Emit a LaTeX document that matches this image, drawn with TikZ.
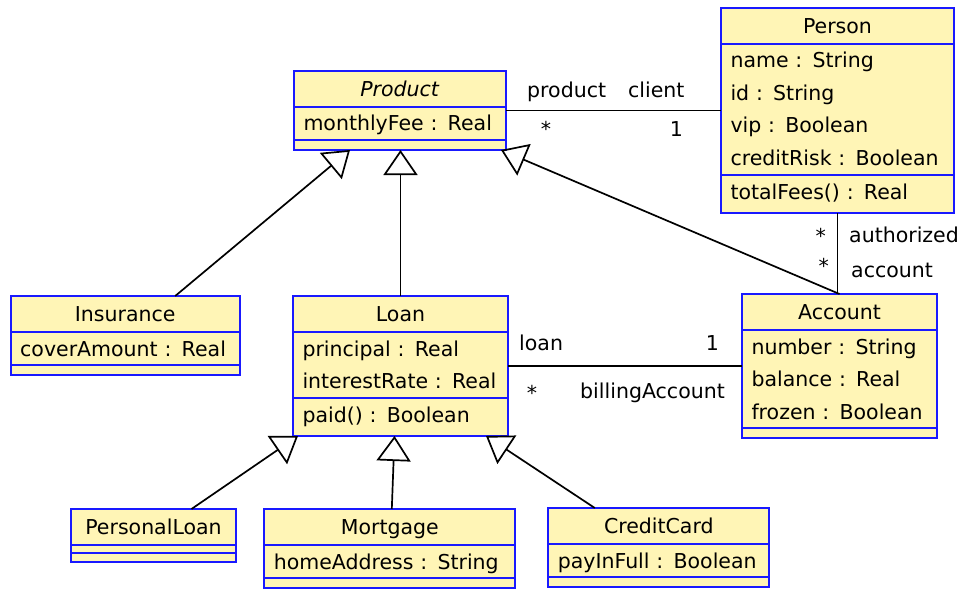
\documentclass[tikz,border=0pt]{standalone}
\usepackage{fontspec}
\setmainfont{DejaVu Sans}
\usetikzlibrary{shapes.multipart,arrows.meta}
\definecolor{clsfill}{RGB}{255,245,182}
\definecolor{clsline}{RGB}{25,25,255}
\newcommand\hstr{\rule[-9.5pt]{0pt}{34pt}}
\newcommand\astr{\rule[-8pt]{0pt}{31pt}}
\newcommand\ostr{\rule[-12.5pt]{0pt}{36.5pt}}
\newcommand\estr{\rule{0pt}{8pt}}
\newcommand\hd[1]{\hbox to\hsize{\hss\hstr#1\hss}}
\begin{document}
\begin{tikzpicture}[x=1pt,y=-1pt,font=\fontsize{20.5}{32.5}\selectfont,
  cls/.style={rectangle split,rectangle split parts=3,draw=clsline,fill=clsfill,line width=2pt,
    inner xsep=9.5pt,inner ysep=0pt,outer sep=0pt,text width=#1,align=left,anchor=north west},
  lbl/.style={inner sep=0pt},
  assoc/.style={line width=1.7pt},
  isa/.style={-{Triangle[open,length=25pt,width=34pt]},line width=1.7pt}]
\useasboundingbox (0,0) rectangle (966,591);
\node (product) at (294,71)[cls=193pt]{\hd{\textit{Product}}
  \nodepart{second}\astr monthlyFee : Real
  \nodepart{third}\estr};
\node (person) at (721,8)[cls=214pt]{\hd{Person}
  \nodepart{second}\astr name : String\\\astr id : String\\\astr vip : Boolean\\\astr creditRisk : Boolean
  \nodepart{third}\ostr totalFees() : Real};
\node (ins) at (10.7,296)[cls=210pt]{\hd{Insurance}
  \nodepart{second}\astr coverAmount : Real
  \nodepart{third}\estr};
\node (loan) at (293,296)[cls=196pt]{\hd{Loan}
  \nodepart{second}\astr principal : Real\\\astr interestRate : Real
  \nodepart{third}\ostr paid() : Boolean};
\node (account) at (742,294)[cls=176pt]{\hd{Account}
  \nodepart{second}\astr number : String\\\astr balance : Real\\\astr frozen : Boolean
  \nodepart{third}\estr};
\node (pl) at (71,509)[cls=146pt]{\hd{PersonalLoan}
  \nodepart{second}\rule{0pt}{6pt}
  \nodepart{third}\rule{0pt}{6.5pt}};
\node (mort) at (264.3,509)[cls=232pt]{\hd{Mortgage}
  \nodepart{second}\astr homeAddress : String
  \nodepart{third}\estr};
\node (cc) at (548.3,508)[cls=202pt]{\hd{CreditCard}
  \nodepart{second}\astr payInFull : Boolean
  \nodepart{third}\estr};

\draw[assoc] (product.east) -- (product.east -| person.west);
\draw[assoc] (person.south) -- (person.south |- account.north);
\draw[assoc] (loan.east) -- (loan.east -| account.west);
\draw[isa] ([xshift=50pt]ins.north) -- ([xshift=-50pt]product.south);
\draw[isa] (loan.north) -- (loan.north |- product.south);
\draw[isa] (account.north) -- ([xshift=-5pt]product.south east);
\draw[isa] ([xshift=38pt]pl.north) -- ([xshift=5pt]loan.south west);
\draw[isa] ([xshift=2pt]mort.north) -- ([xshift=-6pt]loan.south);
\draw[isa] ([xshift=-64pt]cc.north) -- ([xshift=-22pt]loan.south east);

\node (prodrole) at (527,98)[lbl,anchor=base west]{product};
\node (clientrole) at (628,98)[lbl,anchor=base west]{client};
\node (prodmult) at (546,136)[lbl,anchor=base]{*};
\node (clientmult) at (683,136)[lbl,anchor=base east]{1};
\node (authmult) at (826,243)[lbl,anchor=base east]{*};
\node (authrole) at (849,242)[lbl,anchor=base west]{authorized};
\node (accmult) at (829,273)[lbl,anchor=base east]{*};
\node (accrole) at (851,277)[lbl,anchor=base west]{account};
\node (loanrole) at (519,350)[lbl,anchor=base west]{loan};
\node (billmult) at (719,350)[lbl,anchor=base east]{1};
\node (loanmult) at (532,400)[lbl,anchor=base]{*};
\node (billrole) at (580,398)[lbl,anchor=base west]{billingAccount};
\end{tikzpicture}
\end{document}
